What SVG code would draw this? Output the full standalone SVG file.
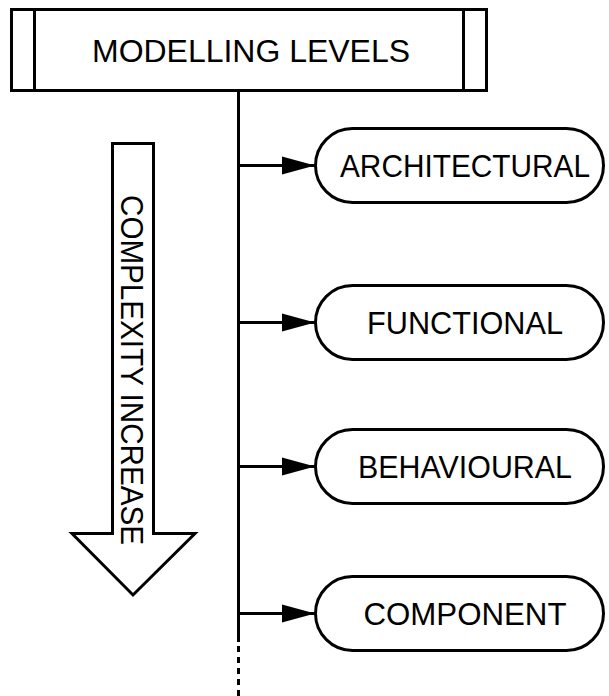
<svg xmlns="http://www.w3.org/2000/svg" width="609" height="696" viewBox="0 0 609 696">
  <style>
    .box { fill: #fff; stroke: #000; stroke-width: 3; }
    .ln { fill: none; stroke: #000; stroke-width: 3; }
    .lbl { font-family: "Liberation Sans", Arial, sans-serif; font-size: 31px; fill: #000; text-anchor: middle; }
  </style>
  <defs>
    <marker id="head" markerUnits="userSpaceOnUse" markerWidth="34" markerHeight="20" refX="33" refY="10" orient="auto">
      <path d="M0,1 L33,10 L0,19 Z" fill="#000"/>
    </marker>
  </defs>
  <rect width="609" height="696" fill="#fff"/>

  <!-- title block -->
  <g id="title">
    <rect class="box" x="11.5" y="9.5" width="475" height="81"/>
    <line class="ln" x1="34.5" y1="9.5" x2="34.5" y2="90.5"/>
    <line class="ln" x1="463.5" y1="9.5" x2="463.5" y2="90.5"/>
    <text class="lbl" x="251" y="62" textLength="318" lengthAdjust="spacingAndGlyphs">MODELLING LEVELS</text>
  </g>

  <!-- complexity arrow -->
  <g id="complexity">
    <path class="box" stroke-linejoin="miter" d="M112.5,143.5 L153.5,143.5 L153.5,533.5 L195,533.5 L133,595 L72,533.5 L112.5,533.5 Z"/>
    <text class="lbl" transform="translate(121,370) rotate(90)" textLength="350" lengthAdjust="spacingAndGlyphs">COMPLEXITY INCREASE</text>
  </g>

  <!-- connectors -->
  <g id="connectors">
    <line class="ln" x1="238.5" y1="90" x2="238.5" y2="642"/>
    <line class="ln" x1="238.5" y1="646" x2="238.5" y2="696" stroke-dasharray="6 5"/>
    <line class="ln" x1="238.5" y1="165.5" x2="315" y2="165.5" marker-end="url(#head)"/>
    <line class="ln" x1="238.5" y1="322.5" x2="315" y2="322.5" marker-end="url(#head)"/>
    <line class="ln" x1="238.5" y1="466.5" x2="315" y2="466.5" marker-end="url(#head)"/>
    <line class="ln" x1="238.5" y1="613.5" x2="315" y2="613.5" marker-end="url(#head)"/>
  </g>

  <!-- level nodes -->
  <g id="architectural">
    <rect class="box" x="315.5" y="128.5" width="288" height="74" rx="37" ry="37"/>
    <text class="lbl" x="465" y="177" textLength="250" lengthAdjust="spacingAndGlyphs">ARCHITECTURAL</text>
  </g>
  <g id="functional">
    <rect class="box" x="315.5" y="285.5" width="288" height="74" rx="37" ry="37"/>
    <text class="lbl" x="465" y="334" textLength="196" lengthAdjust="spacingAndGlyphs">FUNCTIONAL</text>
  </g>
  <g id="behavioural">
    <rect class="box" x="315.5" y="429.5" width="288" height="74" rx="37" ry="37"/>
    <text class="lbl" x="465" y="478" textLength="214" lengthAdjust="spacingAndGlyphs">BEHAVIOURAL</text>
  </g>
  <g id="component">
    <rect class="box" x="315.5" y="576.5" width="288" height="74" rx="37" ry="37"/>
    <text class="lbl" x="465" y="625" textLength="203" lengthAdjust="spacingAndGlyphs">COMPONENT</text>
  </g>
</svg>
